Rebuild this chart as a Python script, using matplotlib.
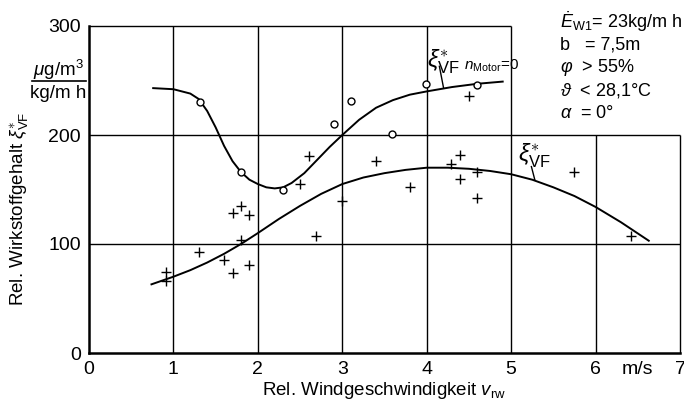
import matplotlib.pyplot as plt
from matplotlib.lines import Line2D

plt.rcParams["font.family"] = ["Liberation Sans", "DejaVu Sans"]
plt.rcParams["mathtext.fontset"] = "custom"
plt.rcParams["mathtext.rm"] = "Liberation Sans"
plt.rcParams["mathtext.it"] = "Liberation Sans:italic"

# measured points, curve without motor (open circles)
circle_x = [1.31, 1.80, 2.30, 2.90, 3.10, 3.59, 3.99, 4.60]
circle_y = [230, 166, 150, 210, 231, 201, 247, 246]

# measured points (crosses)
cross_x = [0.91, 0.91, 1.30, 1.60, 1.70, 1.90, 1.80, 1.70, 1.80, 1.90, 2.60, 2.50,
           2.69, 3.00, 3.40, 3.80, 4.29, 4.39, 4.39, 4.50, 4.60, 4.60, 5.74, 6.42]
cross_y = [74, 66, 93, 85, 73, 81, 104, 128, 135, 127, 181, 155,
           107, 139, 176, 152, 173, 182, 160, 236, 166, 142, 166, 107]

# hand drawn fit curves
motor0_x = [0.76, 1.0, 1.2, 1.3, 1.4, 1.5, 1.6, 1.7, 1.8, 1.9, 2.0, 2.1, 2.2, 2.3,
            2.4, 2.55, 2.7, 2.85, 3.0, 3.2, 3.4, 3.6, 3.8, 4.0, 4.3, 4.6, 4.9]
motor0_y = [243, 242, 238, 233, 222, 207, 190, 176, 166, 159, 155, 152, 151, 152,
            156, 165, 177, 189, 200, 214, 225, 232, 237, 240, 244, 247, 249]

svf_x = [0.74, 1.0, 1.2, 1.4, 1.6, 1.8, 2.0, 2.25, 2.5, 2.75, 3.0, 3.25, 3.5, 3.75,
         4.0, 4.25, 4.5, 4.75, 5.0, 5.25, 5.5, 5.75, 6.0, 6.3, 6.63]
svf_y = [63, 70, 76, 83, 91, 100, 110, 123, 135, 146, 155, 161, 165, 168,
         170, 170, 169, 167, 164, 159, 152, 144, 134, 120, 103]

x_ticks = [0, 1, 2, 3, 4, 5, 6, 7]
y_ticks = [0, 100, 200, 300]

fig = plt.figure(figsize=(6.84, 4.0), dpi=100)
ax = fig.add_axes([89 / 684, 47 / 400, 591 / 684, 327 / 400])
ax.set_xlim(0, 7)
ax.set_ylim(0, 300)

# frame with the top right corner cut out for the parameter box
lw = 1.0
ax.hlines([100, 200], 0, 7, color="black", lw=lw, clip_on=False)
ax.hlines(300, 0, 5, color="black", lw=lw, clip_on=False)
ax.vlines([1, 2, 3, 4, 5], 0, 300, color="black", lw=lw, clip_on=False)
ax.vlines([6, 7], 0, 200, color="black", lw=lw, clip_on=False)
for s in ["top", "right"]:
    ax.spines[s].set_visible(False)
for s in ["left", "bottom"]:
    ax.spines[s].set_linewidth(1.8)

ax.plot(motor0_x, motor0_y, color="black", lw=1.4)
ax.plot(svf_x, svf_y, color="black", lw=1.4)
ax.plot(circle_x, circle_y, "o", mfc="white", mec="black", ms=5, mew=1)
ax.plot(cross_x, cross_y, "+", color="black", ms=7, mew=1)

ax.set_xticks(x_ticks)
ax.set_yticks(y_ticks)
ax.tick_params(length=0, labelsize=14, pad=6)
ax.text(6.5, -7, "m/s", ha="center", va="top", fontsize=14)

ax.set_xlabel(r"Rel. Windgeschwindigkeit $v_{\mathrm{rw}}$", fontsize=13.5, labelpad=1)
ax.set_ylabel(r"Rel. Wirkstoffgehalt $\xi^{\ast}_{\mathrm{VF}}$", fontsize=13.5, labelpad=4)
ax.yaxis.set_label_coords(-0.098, 0.44)

# unit as fraction
fig.text(58 / 684, 1 - 70 / 400, r"$\mu$g/m$^3$", ha="center", va="center", fontsize=13.5)
fig.text(58 / 684, 1 - 93 / 400, "kg/m h", ha="center", va="center", fontsize=13.5)
fig.add_artist(Line2D([32 / 684, 86 / 684], [1 - 81 / 400, 1 - 81 / 400],
                      color="black", lw=1.2))

# curve labels with leader lines
ax.text(4.0, 254, r"$\xi^{\ast}_{\mathrm{VF}}$", fontsize=17, ha="left", va="bottom")
ax.text(4.44, 256, r"$n_{\mathrm{Motor}}$=0", fontsize=11, ha="left", va="bottom")
ax.plot([4.15, 4.2], [263, 243], color="black", lw=1)
ax.text(5.08, 168, r"$\xi^{\ast}_{\mathrm{VF}}$", fontsize=17, ha="left", va="bottom")
ax.plot([5.24, 5.28], [171, 159], color="black", lw=1)

# parameter box
params = [r"$\dot{E}_{\mathrm{W1}}$= 23kg/m h", "b   = 7,5m",
          r"$\varphi$  > 55%", r"$\vartheta$  < 28,1°C", r"$\alpha$  = 0°"]
for i, t in enumerate(params):
    fig.text(560 / 684, 1 - (22 + i * 22.8) / 400, t, ha="left", va="center", fontsize=13)

fig.savefig("out.png", dpi=100, facecolor="white")
